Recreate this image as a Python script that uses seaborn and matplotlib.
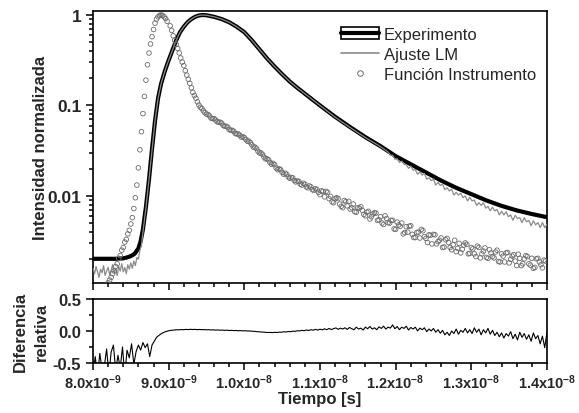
import numpy as np
import matplotlib
matplotlib.use("Agg")
import matplotlib.pyplot as plt
import seaborn as sns
from matplotlib.lines import Line2D
from matplotlib.patches import Patch
from matplotlib.ticker import FixedLocator, FixedFormatter, NullFormatter, LogLocator

# ---- values (time in ns, intensities as log10) ----

# smooth thick black curve
t_fit_ns = [8.00, 8.30, 8.40, 8.45, 8.50, 8.55, 8.60, 8.63, 8.66, 8.70,
            8.74, 8.78, 8.82, 8.86, 8.90, 8.95, 9.00, 9.05, 9.10, 9.15,
            9.20, 9.25, 9.30, 9.35, 9.40, 9.45, 9.50, 9.60, 9.70, 9.80,
            9.90, 10.0, 10.1, 10.2, 10.3, 10.4, 10.5, 10.6, 10.7, 10.8,
            10.9, 11.0, 11.2, 11.4, 11.6, 11.8, 12.0, 12.2, 12.4, 12.6,
            12.8, 13.0, 13.2, 13.4, 13.6, 13.8, 14.0]
fit_log = [-2.695, -2.695, -2.69, -2.68, -2.665, -2.64, -2.58, -2.50, -2.37, -2.12,
           -1.82, -1.48, -1.17, -0.92, -0.76, -0.62, -0.50, -0.39, -0.28, -0.19,
           -0.13, -0.08, -0.045, -0.02, -0.005, 0.0, -0.003, -0.02, -0.045, -0.08,
           -0.13, -0.19, -0.28, -0.38, -0.48, -0.57, -0.655, -0.735, -0.805, -0.87,
           -0.935, -1.0, -1.125, -1.24, -1.35, -1.45, -1.56, -1.65, -1.74, -1.83,
           -1.91, -1.98, -2.05, -2.11, -2.16, -2.20, -2.235]

# thin grey noisy curve: early part, middle part, tail
t_data_early_ns = np.linspace(8.00, 8.64, 33)
data_early_log = [-2.80, -2.86, -2.78, -2.84, -2.90, -2.81, -2.85, -2.77, -2.88, -2.83,
                  -2.79, -2.87, -2.82, -2.76, -2.85, -2.80, -2.88, -2.78, -2.83, -2.75,
                  -2.84, -2.79, -2.86, -2.76, -2.81, -2.74, -2.80, -2.72, -2.77, -2.68,
                  -2.70, -2.60, -2.55]
t_data_mid_ns = [8.66, 8.70, 8.74, 8.78, 8.82, 8.86, 8.90, 8.95, 9.00, 9.05,
                 9.10, 9.15, 9.20, 9.25, 9.30, 9.35, 9.40, 9.45, 9.50, 9.60,
                 9.70, 9.80, 9.90, 10.0, 10.1, 10.2, 10.3, 10.4, 10.5, 10.6,
                 10.7, 10.8, 10.9, 11.0, 11.2, 11.4, 11.6, 11.8]
data_mid_log = [-2.40, -2.13, -1.82, -1.49, -1.17, -0.925, -0.76, -0.62, -0.50, -0.39,
                -0.28, -0.19, -0.13, -0.08, -0.045, -0.02, -0.005, 0.0, -0.003, -0.02,
                -0.045, -0.08, -0.13, -0.19, -0.28, -0.38, -0.48, -0.57, -0.655, -0.735,
                -0.805, -0.87, -0.935, -1.0, -1.13, -1.245, -1.355, -1.455]
t_data_tail_ns = np.linspace(11.90, 14.00, 71)
data_tail_log = [-1.515, -1.55, -1.55, -1.595, -1.59, -1.63, -1.615, -1.65, -1.655, -1.695,
                 -1.67, -1.715, -1.71, -1.76, -1.735, -1.77, -1.75, -1.815, -1.80, -1.83,
                 -1.815, -1.88, -1.85, -1.885, -1.87, -1.93, -1.91, -1.945, -1.925, -1.99,
                 -1.96, -1.99, -1.97, -2.02, -2.00, -2.055, -2.015, -2.055, -2.045, -2.105,
                 -2.075, -2.105, -2.075, -2.135, -2.115, -2.165, -2.125, -2.165, -2.15, -2.21,
                 -2.17, -2.21, -2.175, -2.23, -2.21, -2.27, -2.215, -2.25, -2.24, -2.295,
                 -2.24, -2.285, -2.27, -2.33, -2.275, -2.32, -2.295, -2.35, -2.295, -2.35,
                 -2.315]

# open circles (instrument function)
t_irf_rise_ns = np.linspace(8.16, 8.98, 42)
irf_rise_log = [-3.02, -2.99, -2.96, -2.93, -2.90, -2.86, -2.83, -2.78, -2.75, -2.69,
                -2.66, -2.60, -2.57, -2.51, -2.48, -2.42, -2.38, -2.31, -2.24, -2.14,
                -2.02, -1.88, -1.69, -1.49, -1.29, -1.09, -0.90, -0.72, -0.55, -0.42,
                -0.32, -0.24, -0.16, -0.09, -0.045, -0.02, -0.005, 0.0, -0.005, -0.02,
                -0.04, -0.07]
t_irf_decay_ns = np.linspace(9.02, 13.98, 125)
irf_decay_log = [-0.12, -0.23, -0.325, -0.42, -0.52, -0.615, -0.71, -0.805, -0.89, -0.96,
                 -1.02, -1.06, -1.095, -1.115, -1.145, -1.16, -1.185, -1.195, -1.23, -1.24,
                 -1.275, -1.285, -1.315, -1.33, -1.345, -1.375, -1.395, -1.435, -1.46, -1.505,
                 -1.525, -1.57, -1.59, -1.63, -1.64, -1.69, -1.70, -1.74, -1.75, -1.79,
                 -1.795, -1.83, -1.835, -1.87, -1.86, -1.90, -1.89, -1.93, -1.92, -1.96,
                 -1.945, -2.01, -1.96, -2.005, -2.075, -2.02, -2.09, -2.13, -2.065, -2.06,
                 -2.13, -2.175, -2.13, -2.12, -2.205, -2.18, -2.255, -2.20, -2.19, -2.265,
                 -2.30, -2.22, -2.295, -2.27, -2.365, -2.29, -2.335, -2.42, -2.34, -2.335,
                 -2.425, -2.46, -2.40, -2.37, -2.45, -2.515, -2.435, -2.425, -2.53, -2.49,
                 -2.57, -2.485, -2.515, -2.595, -2.49, -2.58, -2.63, -2.545, -2.535, -2.635,
                 -2.585, -2.67, -2.57, -2.64, -2.575, -2.69, -2.63, -2.685, -2.60, -2.73,
                 -2.665, -2.63, -2.74, -2.665, -2.72, -2.645, -2.77, -2.695, -2.67, -2.765,
                 -2.80, -2.695, -2.73, -2.795, -2.72]
t_irf_between_ns = np.linspace(9.04, 13.96, 124)
irf_between_log = [-0.17, -0.28, -0.37, -0.475, -0.56, -0.665, -0.755, -0.855, -0.92, -0.995,
                   -1.035, -1.08, -1.10, -1.14, -1.145, -1.18, -1.185, -1.22, -1.23, -1.265,
                   -1.275, -1.31, -1.315, -1.35, -1.355, -1.395, -1.41, -1.46, -1.475, -1.525,
                   -1.54, -1.59, -1.60, -1.65, -1.655, -1.71, -1.71, -1.76, -1.76, -1.805,
                   -1.80, -1.845, -1.84, -1.88, -1.87, -1.91, -1.90, -1.94, -1.93,
                   -1.985, -1.95, -1.95, -2.03, -2.065, -2.03, -2.03, -2.115, -2.05, -2.11,
                   -2.145, -2.09, -2.18, -2.135, -2.16, -2.22, -2.17, -2.23, -2.185, -2.27,
                   -2.23, -2.315, -2.25, -2.30, -2.27, -2.37, -2.32, -2.30, -2.405, -2.40,
                   -2.33, -2.46, -2.405, -2.465, -2.385, -2.47, -2.43, -2.53, -2.43, -2.505,
                   -2.465, -2.565, -2.47, -2.57, -2.54, -2.615, -2.525, -2.59, -2.52, -2.64,
                   -2.57, -2.64, -2.555, -2.685, -2.61, -2.68, -2.595, -2.67, -2.62, -2.725,
                   -2.64, -2.73, -2.625, -2.70, -2.65, -2.77, -2.69, -2.75, -2.66, -2.75,
                   -2.69, -2.79, -2.69, -2.76, -2.71]

# relative difference (lower panel)
t_res_ns = np.linspace(8.00, 14.00, 201)
residual = [-0.65, -0.40, -0.72, -0.35, -0.60, -0.55, -0.28, -0.68, -0.33, -0.22,
            -0.62, -0.38, -0.58, -0.25, -0.70, -0.30, -0.42, -0.20, -0.52, -0.32,
            -0.22, -0.30, -0.18, -0.26, -0.20, -0.40, -0.22, -0.16, -0.10, -0.07,
            -0.045, -0.025, -0.01, 0.0, 0.008, 0.012, 0.015, 0.02, 0.018, 0.022,
            0.02, 0.025, 0.022, 0.026, 0.023, 0.025, 0.02, 0.024, 0.02, 0.022,
            0.018, 0.02, 0.016, 0.018, 0.014, 0.016, 0.012, 0.014, 0.01, 0.012,
            0.008, 0.01, 0.006, 0.008, 0.004, 0.006, 0.002, 0.003, 0.0, 0.001,
            -0.004, -0.005, -0.01, -0.012, -0.015, -0.018, -0.02, -0.024, -0.022, -0.026,
            -0.02, -0.024, -0.018, -0.02, -0.012, -0.016, -0.008, -0.012, -0.002, -0.006,
            0.004, 0.0, 0.01, 0.004, 0.015, 0.008, 0.02, 0.012, 0.025, 0.015,
            0.028, 0.018, 0.034, 0.02, 0.04, 0.022, 0.036, 0.048, 0.026, 0.044,
            0.03, 0.05, 0.025, 0.055, 0.035, 0.02, 0.06, 0.03, 0.045, 0.015,
            0.06, 0.035, 0.07, 0.03, 0.05, 0.02, 0.065, 0.04, 0.075, 0.03,
            0.06, 0.045, 0.095, 0.035, 0.07, 0.02, 0.06, 0.04, 0.075, 0.015,
            0.055, 0.03, 0.06, 0.0, 0.045, 0.02, 0.05, -0.01, 0.03, 0.0,
            0.04, -0.02, 0.02, -0.035, 0.01, -0.06, -0.02, -0.07, 0.0, -0.04,
            0.03, -0.05, 0.01, -0.02, 0.04, -0.03, 0.02, -0.04, 0.05, -0.02,
            0.03, -0.06, 0.02, -0.03, 0.04, -0.05, 0.01, -0.07, -0.02, -0.09,
            -0.03, -0.11, -0.04, -0.08, -0.01, -0.12, -0.05, -0.14, -0.02, -0.10,
            -0.04, -0.13, -0.06, -0.16, -0.03, -0.12, -0.07, -0.20, -0.08, -0.26,
            -0.02]

x_major_ns = [8, 9, 10, 11, 12, 13, 14]
x_tick_labels = [r"8.0x10$^{-9}$", r"9.0x10$^{-9}$", r"1.0x10$^{-8}$", r"1.1x10$^{-8}$",
                 r"1.2x10$^{-8}$", r"1.3x10$^{-8}$", r"1.4x10$^{-8}$"]
legend_labels = ["Experimento", "Ajuste LM", "Función Instrumento"]

# ---- style ----
sns.set_style("ticks")
plt.rcParams["font.family"] = ["Liberation Sans", "DejaVu Sans"]
plt.rcParams["font.weight"] = "bold"
plt.rcParams["mathtext.fontset"] = "custom"
plt.rcParams["mathtext.rm"] = "Liberation Sans:bold"
plt.rcParams["mathtext.default"] = "rm"

ns = 1e-9
t_fit = np.array(t_fit_ns) * ns
t_data = np.concatenate([t_data_early_ns, t_data_mid_ns, t_data_tail_ns]) * ns
data_log = np.concatenate([data_early_log, data_mid_log, data_tail_log])
t_irf = np.concatenate([t_irf_rise_ns, t_irf_decay_ns, t_irf_between_ns]) * ns
irf_log = np.concatenate([irf_rise_log, irf_decay_log, irf_between_log])
t_res = t_res_ns * ns

fig = plt.figure(figsize=(5.79, 4.14), dpi=100)
ax1 = fig.add_axes([0.1606, 0.314, 0.7841, 0.657])
ax2 = fig.add_axes([0.1606, 0.1208, 0.7841, 0.1546])

# ---- upper panel ----
ax1.set_yscale("log")
sns.lineplot(x=t_fit, y=10 ** np.array(fit_log), ax=ax1, color="black",
             linewidth=3.0, legend=False, zorder=2)
sns.lineplot(x=t_data, y=10 ** data_log, ax=ax1, color="#8a8a8a",
             linewidth=0.9, legend=False, zorder=3)
sns.scatterplot(x=t_irf, y=10 ** irf_log, ax=ax1, s=11, marker="o", legend=False, zorder=4)
pts = ax1.collections[-1]
pts.set_facecolor("none")
pts.set_edgecolor("#6a6a6a")
pts.set_linewidth(0.6)

ax1.set_xlim(8e-9, 1.4e-8)
ax1.set_ylim(0.00109, 1.107)
ax1.yaxis.set_major_locator(FixedLocator([0.01, 0.1, 1]))
ax1.yaxis.set_major_formatter(FixedFormatter(["0.01", "0.1", "1"]))
ax1.yaxis.set_minor_locator(LogLocator(base=10, subs=np.arange(2, 10)))
ax1.yaxis.set_minor_formatter(NullFormatter())
ax1.set_ylabel("Intensidad normalizada", fontsize=12, fontweight="bold")
ax1.yaxis.set_label_coords(-0.099, 0.5)

# ---- lower panel ----
sns.lineplot(x=t_res, y=residual, ax=ax2, color="black", linewidth=0.8, legend=False)
ax2.set_xlim(8e-9, 1.4e-8)
ax2.set_ylim(-0.5, 0.5)
ax2.yaxis.set_major_locator(FixedLocator([-0.5, 0.0, 0.5]))
ax2.yaxis.set_major_formatter(FixedFormatter(["-0.5", "0.0", "0.5"]))
ax2.yaxis.set_minor_locator(FixedLocator([-0.25, 0.25]))
ax2.set_ylabel("Diferencia\nrelativa", fontsize=12, fontweight="bold", linespacing=1.5)
ax2.yaxis.set_label_coords(-0.097, 0.5)
ax2.set_xlabel("Tiempo [s]", fontsize=12, fontweight="bold")
ax2.xaxis.set_label_coords(0.5, -0.44)

for ax in (ax1, ax2):
    ax.xaxis.set_major_locator(FixedLocator(np.array(x_major_ns) * ns))
    ax.xaxis.set_minor_locator(FixedLocator(np.arange(8.0, 14.01, 0.2) * ns))
    for side in ax.spines.values():
        side.set_visible(True)
        side.set_linewidth(1.2)
        side.set_color("black")
    ax.tick_params(which="both", direction="out", width=1.1, color="black",
                   top=False, right=False)
    ax.tick_params(which="major", length=5)
    ax.tick_params(which="minor", length=3)
    ax.set_facecolor("white")

ax1.tick_params(axis="x", labelbottom=False)
ax1.tick_params(axis="y", labelsize=12.5)
ax2.tick_params(axis="y", labelsize=12)
ax2.xaxis.set_major_formatter(FixedFormatter(x_tick_labels))
ax2.tick_params(axis="x", labelsize=10.5, pad=2)
ax1.set_xlabel("")

# ---- legend ----
h_exp = (Patch(facecolor="white", edgecolor="black", linewidth=1.2),
         Line2D([], [], color="black", linewidth=3))
h_fit = Line2D([], [], color="#8a8a8a", linewidth=1.2)
h_irf = Line2D([], [], linestyle="none", marker="o", markersize=4,
               markerfacecolor="white", markeredgecolor="#6a6a6a", markeredgewidth=0.7)
ax1.legend([h_exp, h_fit, h_irf], legend_labels, loc="upper right",
           bbox_to_anchor=(0.991, 0.966), borderaxespad=0.0,
           frameon=False, handlelength=2.3, handletextpad=0.3, labelspacing=0.3,
           prop={"family": ["Liberation Sans", "DejaVu Sans"], "weight": "normal", "size": 12})

fig.savefig("out.png", dpi=100, facecolor="white")
